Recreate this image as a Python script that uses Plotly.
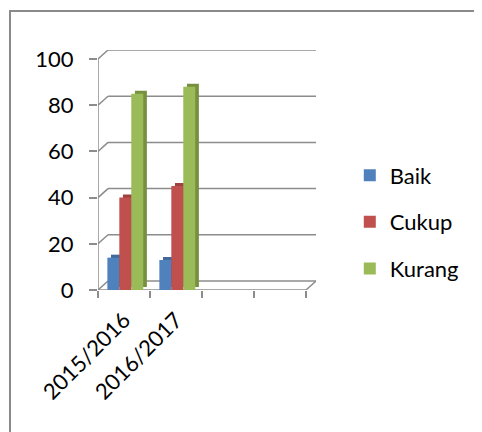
import plotly.graph_objects as go

categories = ["2015/2016", "2016/2017", " ", "  "]
series_names = ["Baik", "Cukup", "Kurang"]
baik = [14, 13, None, None]
cukup = [40, 45, None, None]
kurang = [85, 88, None, None]
y_ticks = [0, 20, 40, 60, 80, 100]

front_colors = ["#4F81BD", "#C0504D", "#9BBB59"]
side_colors = ["#41699A", "#9E4240", "#76903F"]
values = [baik, cukup, kurang]

FONT = "Lato, Calibri, 'Open Sans', sans-serif"
GRID = "#8c8c8c"

bar_w = 0.23
offsets = [-0.32, -0.09, 0.14]
dx = 10 / 52.0      # depth shift in category units
dy = 9 / 2.31       # depth shift in value units

fig = go.Figure()
# side faces (behind)
for name, vals, col, off in zip(series_names, values, side_colors, offsets):
    fig.add_trace(go.Bar(x=categories, y=vals, base=1.3, offset=off + 0.07, width=bar_w,
                         marker=dict(color=col, line=dict(width=0)), showlegend=False,
                         hoverinfo="skip"))
# front faces
for name, vals, col, off in zip(series_names, values, front_colors, offsets):
    fig.add_trace(go.Bar(x=categories, y=vals, name=name, offset=off, width=bar_w,
                         marker=dict(color=col, line=dict(width=0)),
                         legendgroup=name))

shapes = []
x0 = -0.5
x1 = len(categories) - 0.5
for v in y_ticks:
    shapes.append(dict(type="line", xref="x", yref="y", x0=x0, y0=v, x1=x0 + dx, y1=v + dy,
                       line=dict(color=GRID, width=1.5), layer="below"))
    shapes.append(dict(type="line", xref="x", yref="y", x0=x0 + dx, y0=v + dy, x1=x1 + dx, y1=v + dy,
                       line=dict(color=GRID, width=1.5), layer="below"))
# floor front edge and right diagonal
shapes.append(dict(type="line", xref="x", yref="y", x0=x0, y0=0, x1=x1, y1=0,
                   line=dict(color=GRID, width=1.5), layer="below"))
shapes.append(dict(type="line", xref="x", yref="y", x0=x1, y0=0, x1=x1 + dx, y1=dy,
                   line=dict(color=GRID, width=1.5), layer="below"))
# y axis line
shapes.append(dict(type="line", xref="x", yref="y", x0=x0, y0=0, x1=x0, y1=max(y_ticks),
                   line=dict(color=GRID, width=1.5)))
# outer frame (left + top)
shapes.append(dict(type="path", xref="paper", yref="paper",
                   path="M -0.4037,-1 L -0.4037,1.1625 L 2,1.1625",
                   line=dict(color="#8a8a8a", width=2)))

fig.update_layout(
    width=482, height=432,
    margin=dict(l=90, r=174, t=42, b=150),
    paper_bgcolor="white", plot_bgcolor="white",
    barmode="overlay",
    font=dict(family=FONT, size=22, color="black"),
    shapes=shapes,
    showlegend=True,
    legend=dict(x=1.155, y=0.565, xanchor="left", yanchor="top", tracegroupgap=15,
                font=dict(size=22), itemwidth=30, bgcolor="rgba(0,0,0,0)"),
    xaxis=dict(range=[x0, x1 + dx], tickson="boundaries", ticks="outside", ticklen=7,
               tickcolor=GRID, tickwidth=1.5, showgrid=False, showline=False, zeroline=False,
               tickangle=-45, tickfont=dict(size=22), categoryorder="array",
               categoryarray=categories, ticklabelstandoff=12),
    yaxis=dict(range=[0, 100 + dy], tickvals=y_ticks, ticks="outside", ticklen=8,
               tickcolor=GRID, tickwidth=1.5, showgrid=False, showline=False, zeroline=False,
               tickfont=dict(size=22), ticklabelstandoff=11),
)

fig.write_html("out.html")
